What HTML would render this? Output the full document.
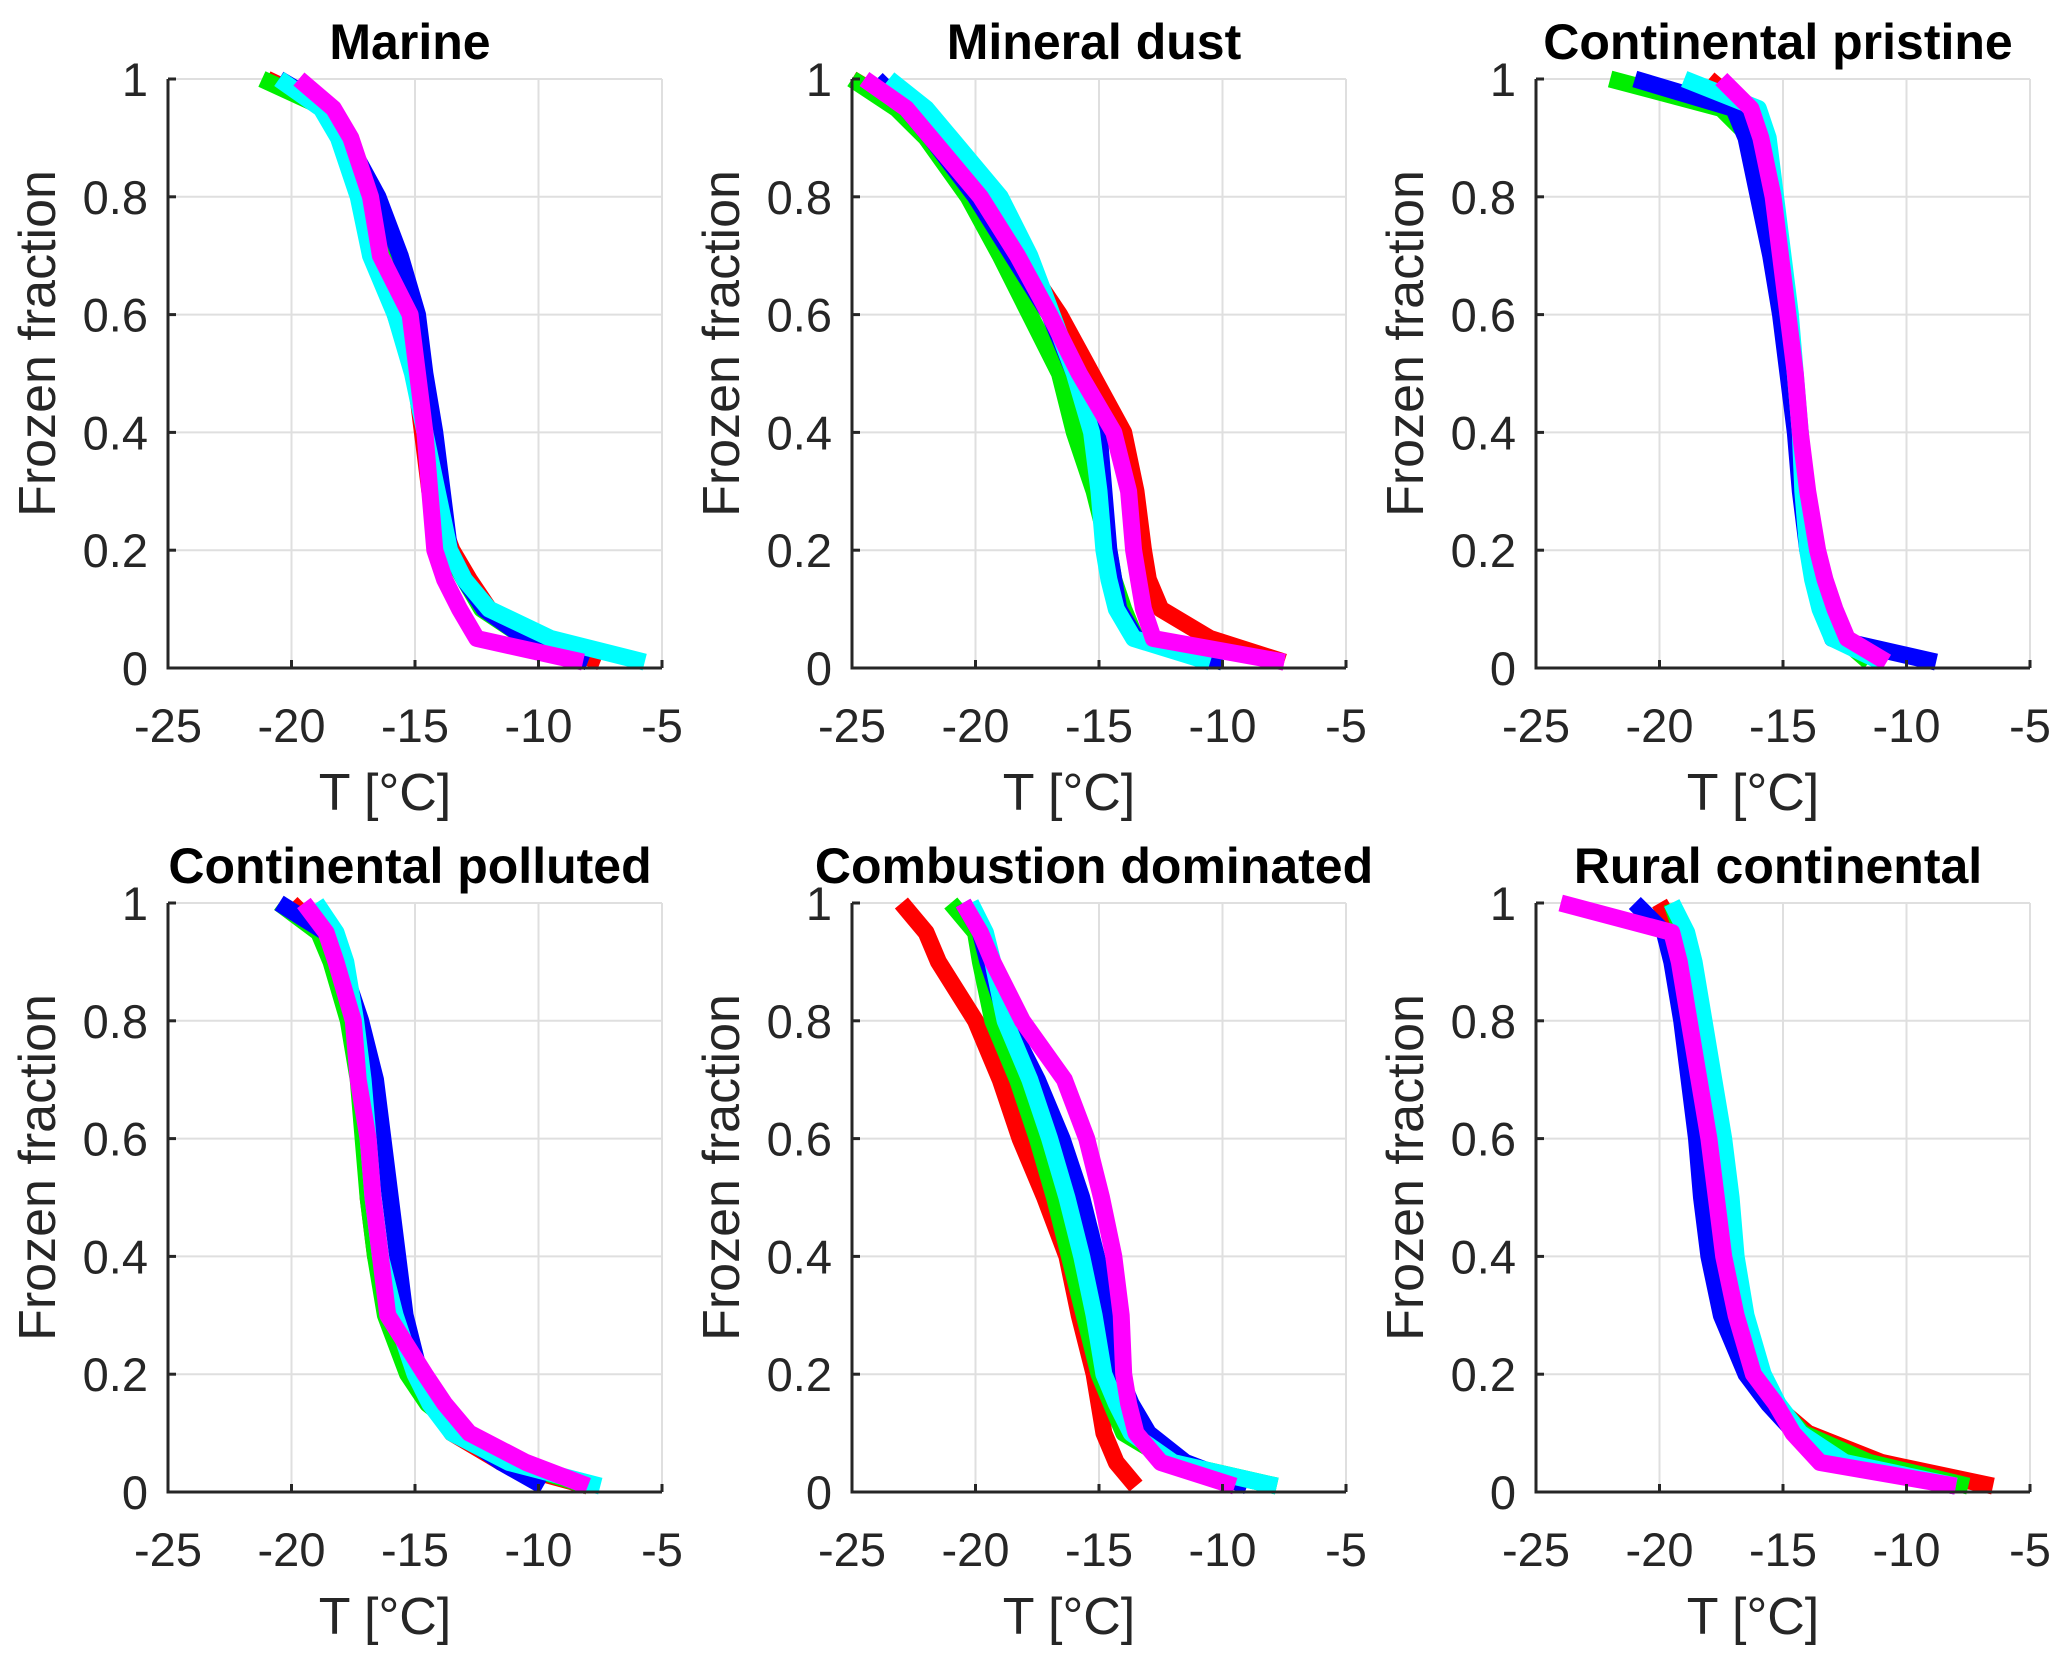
<!DOCTYPE html>
<html><head><meta charset="utf-8"><style>
body{margin:0;background:#fff;}
svg{display:block;font-family:"Liberation Sans",Arial,sans-serif;}
</style></head><body>
<svg id="fig" width="2067" height="1661" viewBox="0 0 2067 1661"></svg>
<script>
const levels=[1,0.95,0.9,0.8,0.7,0.6,0.5,0.4,0.3,0.2,0.15,0.1,0.05,0.01];
const titles=["Marine","Mineral dust","Continental pristine","Continental polluted","Combustion dominated","Rural continental"];
const seriesNames=["red","green","blue","cyan","magenta"];
const colors=["#ff0000","#00ee00","#0000ff","#00ffff","#ff00ff"];
const xTicks=[-25,-20,-15,-10,-5];
const yTicks=[0,0.2,0.4,0.6,0.8,1];
const yTickLabels=["0","0.2","0.4","0.6","0.8","1"];
// panel data: temperatures at each frozen-fraction level [red, green, blue, cyan, magenta]
const marine=[
[-21,-18.5,-17.8,-16.8,-16.2,-15.8,-15.0,-14.7,-14.4,-13.5,-12.8,-12.0,-10.0,-7.5],
[-21.2,-18.6,-17.9,-16.9,-16.3,-15.7,-15.0,-14.6,-14.3,-13.7,-13.0,-12.3,-10.5,-8],
[-20.5,-18.5,-17.8,-16.5,-15.6,-14.9,-14.6,-14.2,-13.9,-13.6,-13.0,-12.2,-10.5,-8],
[-20.5,-18.8,-18.1,-17.3,-16.8,-15.8,-15.1,-14.6,-14.1,-13.6,-13,-12,-9.5,-5.7],
[-19.7,-18.3,-17.6,-16.8,-16.4,-15.2,-14.9,-14.6,-14.4,-14.2,-13.8,-13.2,-12.5,-8.2]];
const mineralDust=[
[-25,-23,-21.8,-20,-18.2,-16.6,-15.3,-14,-13.5,-13.2,-13,-12.5,-10.5,-7.5],
[-25,-23.2,-22,-20.3,-19,-17.8,-16.6,-16,-15.2,-14.6,-14.4,-14,-13.5,-10],
[-24,-22.8,-21.8,-20,-18.5,-17,-16,-15,-14.8,-14.6,-14.4,-14.2,-13.5,-10],
[-23.5,-22,-21,-19,-17.8,-16.9,-16,-15.3,-15,-14.8,-14.6,-14.3,-13.6,-10.5],
[-24.5,-22.8,-21.8,-19.8,-18.3,-17,-15.8,-14.4,-13.8,-13.6,-13.4,-13.2,-12.8,-7.5]];
const contPristine=[
[-18,-16.6,-16,-15.5,-15.2,-14.9,-14.6,-14.4,-14.2,-13.9,-13.6,-13.2,-12.8,-11],
[-22,-17.5,-16.3,-15.6,-15.2,-14.9,-14.6,-14.3,-14.1,-13.8,-13.5,-13,-12.6,-11.5],
[-21,-17,-16.5,-16,-15.5,-15.1,-14.8,-14.5,-14.3,-14,-13.7,-13.4,-13,-8.8],
[-19,-16,-15.6,-15.3,-15,-14.7,-14.5,-14.3,-14.2,-14,-13.8,-13.5,-13,-11],
[-17.5,-16.3,-15.9,-15.4,-15.1,-14.8,-14.5,-14.3,-14,-13.6,-13.3,-12.9,-12.4,-10.8]];
const contPolluted=[
[-20,-18.8,-18.3,-17.6,-17.2,-17,-16.9,-16.6,-16,-15,-14.3,-13.5,-11.5,-8],
[-20.5,-18.9,-18.4,-17.7,-17.3,-17.1,-16.9,-16.6,-16.2,-15.3,-14.5,-13,-11,-8],
[-20.5,-18.6,-18,-17.2,-16.6,-16.3,-16,-15.7,-15.4,-14.8,-14.2,-13.2,-11.5,-9.8],
[-19,-18.2,-17.8,-17.4,-17.1,-16.9,-16.7,-16.4,-15.8,-15,-14.4,-13.5,-11.2,-7.5],
[-19.5,-18.6,-18.2,-17.5,-17.3,-16.9,-16.7,-16.4,-16.1,-14.6,-13.8,-12.8,-10.5,-8]];
const combustion=[
[-23,-22,-21.5,-20,-19,-18.2,-17.2,-16.3,-15.8,-15.2,-15,-14.8,-14.3,-13.5],
[-21,-20,-19.8,-19.3,-18.3,-17.5,-16.8,-16.2,-15.6,-15,-14.5,-14,-12,-7.8],
[-20.5,-19.8,-19.5,-18.7,-17.5,-16.5,-15.7,-15.1,-14.6,-14.2,-13.7,-13,-11.5,-9],
[-20.2,-19.6,-19.3,-18.8,-17.8,-17,-16.3,-15.7,-15.2,-14.8,-14.3,-13.7,-12,-7.8],
[-20.5,-19.8,-19.3,-18.1,-16.4,-15.5,-14.9,-14.4,-14.1,-14,-13.8,-13.5,-12.5,-9.5]];
const rural=[
[-20,-19.3,-19.1,-18.7,-18.4,-18.1,-17.8,-17.4,-17,-16.2,-15.4,-14,-11,-6.5],
[-19.5,-19.1,-18.9,-18.6,-18.3,-18,-17.7,-17.3,-16.8,-16,-15.3,-14.2,-11.5,-7.5],
[-21,-19.8,-19.5,-19.1,-18.8,-18.5,-18.3,-18,-17.5,-16.5,-15.6,-14.5,-13,-8],
[-19.5,-18.9,-18.6,-18.2,-17.8,-17.4,-17.1,-16.9,-16.5,-15.8,-15.2,-14.3,-12.5,-8],
[-24,-19.5,-19.2,-18.8,-18.4,-18,-17.7,-17.4,-16.9,-16.2,-15.3,-14.6,-13.5,-8]];
const panelData=[marine,mineralDust,contPristine,contPolluted,combustion,rural];

const NS="http://www.w3.org/2000/svg";
const svg=document.getElementById('fig');
function mk(tag,attrs,parent){const e=document.createElementNS(NS,tag);for(const k in attrs)e.setAttribute(k,attrs[k]);(parent||svg).appendChild(e);return e;}
const W=494,H=589;
const lefts=[168,852,1536],tops=[79,903];
const keys=["marine","mineral-dust","continental-pristine","continental-polluted","combustion-dominated","rural-continental"];
panelData.forEach((data,p)=>{
  const x0=lefts[p%3],y0=tops[Math.floor(p/3)];
  const g=mk('g',{});
  
  
  const sx=t=>x0+(t+25)/20*W;
  const sy=f=>y0+(1-f)*H;
  xTicks.forEach(t=>{const l=mk('line',{x1:sx(t),x2:sx(t),y1:y0,y2:y0+H,stroke:'#dfdfdf','stroke-width':2},g);
    });
  yTicks.forEach(v=>{const l=mk('line',{x1:x0,x2:x0+W,y1:sy(v),y2:sy(v),stroke:'#dfdfdf','stroke-width':2},g);
    });
  data.forEach((ser,s)=>{
    const pts=ser.map((t,i)=>sx(t).toFixed(1)+','+sy(levels[i]).toFixed(1)).join(' ');
    const pl=mk('polyline',{points:pts,fill:'none',stroke:colors[s],'stroke-width':17,'stroke-linejoin':'round','stroke-linecap':'butt'},g);
    
    
  });
  const ax=mk('path',{d:`M${x0},${y0} V${y0+H} H${x0+W}`,fill:'none',stroke:'#262626','stroke-width':3},g);
  
  xTicks.forEach(t=>{mk('line',{x1:sx(t),x2:sx(t),y1:y0+H,y2:y0+H-8,stroke:'#262626','stroke-width':3},g);
    const tx=mk('text',{x:sx(t),y:y0+H+74,'text-anchor':'middle','font-size':47,fill:'#262626'},g);tx.textContent=String(t);
    });
  yTicks.forEach((v,i)=>{mk('line',{x1:x0,x2:x0+8,y1:sy(v),y2:sy(v),stroke:'#262626','stroke-width':3},g);
    const tx=mk('text',{x:x0-20,y:sy(v)+17,'text-anchor':'end','font-size':47,fill:'#262626'},g);tx.textContent=yTickLabels[i];
    });
  const xt=mk('text',{x:x0+W/2-30,y:y0+H+142,'text-anchor':'middle','font-size':52,fill:'#262626'},g);xt.textContent='T [°C]';
  
  const cy=y0+H/2-30;
  const yt=mk('text',{x:x0-113,y:cy,'text-anchor':'middle','font-size':52,fill:'#262626',transform:`rotate(-90 ${x0-113} ${cy})`},g);yt.textContent='Frozen fraction';
  
  const tt=mk('text',{x:x0+W/2-5,y:y0-20,'text-anchor':'middle','font-size':50,'font-weight':'bold',fill:'#000'},g);tt.textContent=titles[p];
  
});
</script>
</body></html>
